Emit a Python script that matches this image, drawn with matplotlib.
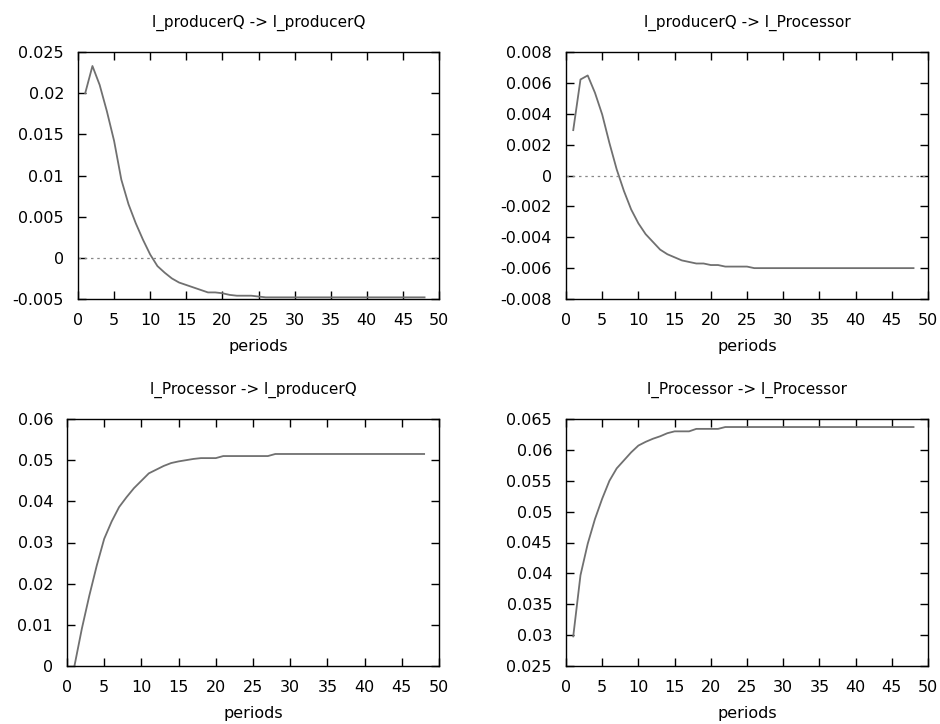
import numpy as np
import matplotlib
matplotlib.use("Agg")
import matplotlib.pyplot as plt

periods = np.arange(1, 49)

# l_producerQ -> l_producerQ
pq_pq = [0.0200, 0.0233, 0.0210, 0.0178, 0.0142, 0.0095, 0.0065, 0.0042, 0.0022, 0.0004,
         -0.0010, -0.0018, -0.0025, -0.0030, -0.0033, -0.0036, -0.0039, -0.0042, -0.0042, -0.0043,
         -0.0045, -0.0046, -0.0046, -0.0046, -0.0047] + [-0.0048] * 23

# l_producerQ -> l_Processor
pq_pr = [0.00294, 0.00622, 0.00648, 0.00536, 0.00395, 0.0021, 0.0004, -0.0010, -0.0022, -0.0031,
         -0.0038, -0.0043, -0.0048, -0.0051, -0.0053, -0.0055, -0.0056, -0.0057, -0.0057, -0.0058,
         -0.0058, -0.0059, -0.0059, -0.0059, -0.0059] + [-0.0060] * 23

# l_Processor -> l_producerQ
pr_pq = [0.0, 0.0091, 0.0171, 0.0244, 0.0309, 0.0351, 0.0386, 0.0410, 0.0432, 0.0450,
         0.0468, 0.0477, 0.0486, 0.0493, 0.0497, 0.0500, 0.0503, 0.0505, 0.0505, 0.0505,
         0.0510, 0.0510, 0.0510, 0.0510, 0.0510, 0.0510, 0.0510] + [0.0515] * 21

# l_Processor -> l_Processor
pr_pr = [0.0298, 0.0397, 0.0448, 0.0488, 0.0521, 0.0550, 0.0570, 0.0583, 0.0596, 0.0607,
         0.0613, 0.0618, 0.0622, 0.0627, 0.0630, 0.0630, 0.0630, 0.0634, 0.0634, 0.0634,
         0.0634] + [0.0637] * 27

titles = ["l_producerQ -> l_producerQ", "l_producerQ -> l_Processor",
          "l_Processor -> l_producerQ", "l_Processor -> l_Processor"]
series = [pq_pq, pq_pr, pr_pq, pr_pr]
ylims = [(-0.005, 0.025), (-0.008, 0.008), (0, 0.06), (0.025, 0.065)]
ysteps = [0.005, 0.002, 0.01, 0.005]
ylabels = [["-0.005", "0", "0.005", "0.01", "0.015", "0.02", "0.025"],
           ["-0.008", "-0.006", "-0.004", "-0.002", "0", "0.002", "0.004", "0.006", "0.008"],
           ["0", "0.01", "0.02", "0.03", "0.04", "0.05", "0.06"],
           ["0.025", "0.03", "0.035", "0.04", "0.045", "0.05", "0.055", "0.06", "0.065"]]
zero_line = [True, True, False, False]

W, H = 940, 724
# axes boxes in pixels: left, top, right, bottom
boxes = [(78, 52, 439, 299), (566, 52, 928, 299),
         (67, 419, 439, 666), (566, 419, 928, 666)]

plt.rcParams['font.family'] = ['DejaVu Sans']
fig = plt.figure(figsize=(W / 100, H / 100), dpi=100)

for i in range(4):
    l, t, r, b = boxes[i]
    ax = fig.add_axes([l / W, 1 - b / H, (r - l) / W, (b - t) / H])
    ax.plot(periods, series[i], color='#707070', lw=1.3)
    if zero_line[i]:
        ax.axhline(0, color='#888888', lw=0.9, ls=(0, (2, 3)))
    ax.set_xlim(0, 50)
    ax.set_ylim(*ylims[i])
    ax.set_xticks(np.arange(0, 51, 5))
    yt = np.arange(ylims[i][0], ylims[i][1] + ysteps[i] / 2, ysteps[i])
    ax.set_yticks(yt)
    ax.set_yticklabels(ylabels[i])
    ax.tick_params(direction='in', length=6, width=1, top=True, right=True,
                   labelsize=11.5, colors='black')
    ax.tick_params(axis='x', pad=10)
    ax.tick_params(axis='y', pad=10)
    for s in ax.spines.values():
        s.set_linewidth(1.0)
    ax.set_title(titles[i], fontsize=11, pad=18)
    ax.set_xlabel("periods", fontsize=11.5, labelpad=8)

plt.savefig("out.png", dpi=100)
